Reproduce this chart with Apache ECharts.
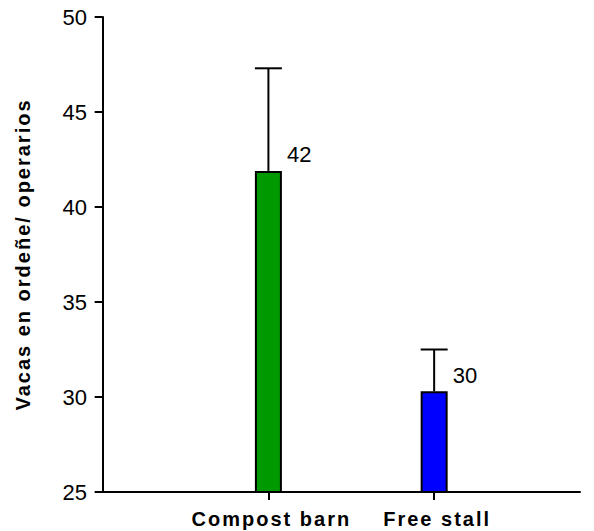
<!DOCTYPE html>
<html>
<head>
<meta charset="utf-8">
<script src="https://cdn.jsdelivr.net/npm/echarts@6/dist/echarts.min.js"></script>
<style>
  html, body { margin: 0; padding: 0; background: #fff; }
  #chart { width: 594px; height: 531px; }
  /* bold captions are set slightly tracked out */
  #chart svg text[style*="bold"],
  #chart svg text[font-weight="bold"] { letter-spacing: 2px; }
</style>
</head>
<body>
<div id="chart"></div>
<script>
// Milking cows per operator, by housing system (mean + upper error bar)
var categories = ['Compost barn', 'Free stall'];
var means = [41.9, 30.3];
var errorTops = [47.3, 32.5];
var barColors = ['#009900', '#0000ff'];
var yTicks = [25, 30, 35, 40, 45, 50];

var positions = categories.map(function (c, i) { return i + 1; });
var FONT = 'Liberation Sans, Arial, sans-serif';

var chart = echarts.init(document.getElementById('chart'), null, { renderer: 'svg' });

var barData = means.map(function (v, i) {
  return { value: [positions[i], v], itemStyle: { color: barColors[i] } };
});
var errData = means.map(function (v, i) {
  return [positions[i], v, errorTops[i]];
});

chart.setOption({
  animation: false,
  backgroundColor: '#fff',
  grid: { left: 101, right: 14, top: 17, bottom: 39, containLabel: false },
  xAxis: {
    type: 'value',
    min: -0.01,
    max: 2.88,
    splitLine: { show: false },
    axisLine: { show: true, onZero: false, lineStyle: { color: '#000', width: 2 } },
    axisTick: { show: true, length: 8, lineStyle: { color: '#000', width: 2 }, customValues: positions },
    axisLabel: {
      customValues: positions,
      margin: 17,
      padding: [0, 0, 0, 6],
      color: '#000',
      fontFamily: FONT,
      fontWeight: 'bold',
      fontSize: 20,
      formatter: function (v) { return categories[Math.round(v) - 1] || ''; }
    }
  },
  yAxis: {
    type: 'value',
    min: 25,
    max: 50,
    interval: 5,
    name: 'Vacas en ordeñe/ operarios',
    nameLocation: 'middle',
    nameGap: 68,
    nameRotate: 90,
    nameTextStyle: { color: '#000', fontFamily: FONT, fontWeight: 'bold', fontSize: 20 },
    splitLine: { show: false },
    axisLine: { show: true, lineStyle: { color: '#000', width: 2 } },
    axisTick: { show: true, length: 8, lineStyle: { color: '#000', width: 2 } },
    axisLabel: {
      margin: 14,
      color: '#000',
      fontFamily: FONT,
      fontSize: 22,
      formatter: function (v) { return yTicks.indexOf(v) >= 0 ? String(v) : ''; }
    }
  },
  series: [
    {
      type: 'bar',
      data: barData,
      barWidth: 27,
      itemStyle: { borderColor: '#000', borderWidth: 2 },
      z: 2
    },
    {
      type: 'custom',
      data: errData,
      z: 3,
      renderItem: function (params, api) {
        var x = api.value(0);
        var base = api.coord([x, api.value(1)]);
        var top = api.coord([x, api.value(2)]);
        var half = 13.5;
        var label = String(Math.round(api.value(1)));
        return {
          type: 'group',
          children: [
            { type: 'line', shape: { x1: base[0], y1: base[1], x2: top[0], y2: top[1] },
              style: { stroke: '#000', lineWidth: 2 } },
            { type: 'line', shape: { x1: top[0] - half, y1: top[1], x2: top[0] + half, y2: top[1] },
              style: { stroke: '#000', lineWidth: 2 } },
            { type: 'text', x: base[0] + half + 5, y: base[1] - 5,
              style: { text: label, fill: '#000', font: '22px ' + FONT,
                       textAlign: 'left', textVerticalAlign: 'bottom' } }
          ]
        };
      }
    }
  ]
});
</script>
</body>
</html>
